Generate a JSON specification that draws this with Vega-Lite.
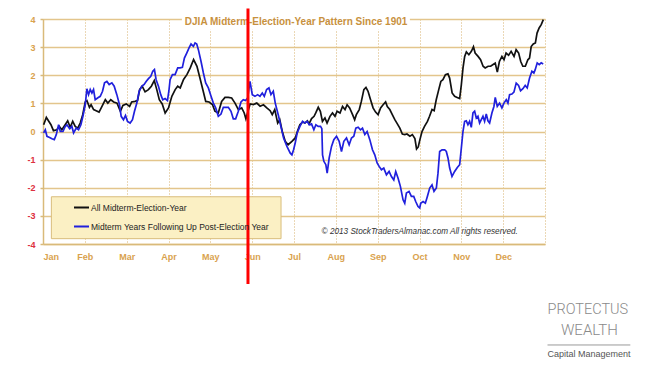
{
  "$schema": "https://vega.github.io/schema/vega-lite/v6.json",
  "width": 502,
  "height": 225,
  "autosize": "none",
  "padding": {"left": 43, "top": 19, "right": 102, "bottom": 127},
  "background": "white",
  "config": {
    "view": {"stroke": null},
    "font": "Liberation Sans",
    "axis": {"labelFont": "Liberation Sans", "title": null}
  },
  "resolve": {"axis": {"x": "independent", "y": "independent"}},
  "datasets": {
    "series": [
      {"s":"All Midterm-Election-Year","m":0.015,"v":0.24},{"s":"All Midterm-Election-Year","m":0.08,"v":0.50},{"s":"All Midterm-Election-Year","m":0.13,"v":0.38},{"s":"All Midterm-Election-Year","m":0.19,"v":0.24},{"s":"All Midterm-Election-Year","m":0.25,"v":0.03},{"s":"All Midterm-Election-Year","m":0.33,"v":0.06},{"s":"All Midterm-Election-Year","m":0.39,"v":0.18},{"s":"All Midterm-Election-Year","m":0.45,"v":0.06},{"s":"All Midterm-Election-Year","m":0.53,"v":0.24},{"s":"All Midterm-Election-Year","m":0.59,"v":0.38},{"s":"All Midterm-Election-Year","m":0.65,"v":0.15},{"s":"All Midterm-Election-Year","m":0.71,"v":0.36},{"s":"All Midterm-Election-Year","m":0.77,"v":0.18},{"s":"All Midterm-Election-Year","m":0.83,"v":0.12},{"s":"All Midterm-Election-Year","m":0.89,"v":0.30},{"s":"All Midterm-Election-Year","m":0.95,"v":0.60},{"s":"All Midterm-Election-Year","m":1.01,"v":1.05},{"s":"All Midterm-Election-Year","m":1.05,"v":1.10},{"s":"All Midterm-Election-Year","m":1.11,"v":0.86},{"s":"All Midterm-Election-Year","m":1.15,"v":0.95},{"s":"All Midterm-Election-Year","m":1.21,"v":0.78},{"s":"All Midterm-Election-Year","m":1.27,"v":0.74},{"s":"All Midterm-Election-Year","m":1.34,"v":0.69},{"s":"All Midterm-Election-Year","m":1.41,"v":0.89},{"s":"All Midterm-Election-Year","m":1.49,"v":1.13},{"s":"All Midterm-Election-Year","m":1.55,"v":1.01},{"s":"All Midterm-Election-Year","m":1.62,"v":1.13},{"s":"All Midterm-Election-Year","m":1.69,"v":1.05},{"s":"All Midterm-Election-Year","m":1.77,"v":1.01},{"s":"All Midterm-Election-Year","m":1.85,"v":0.72},{"s":"All Midterm-Election-Year","m":1.91,"v":0.93},{"s":"All Midterm-Election-Year","m":1.99,"v":0.98},{"s":"All Midterm-Election-Year","m":2.07,"v":0.89},{"s":"All Midterm-Election-Year","m":2.12,"v":1.05},{"s":"All Midterm-Election-Year","m":2.20,"v":1.07},{"s":"All Midterm-Election-Year","m":2.26,"v":1.10},{"s":"All Midterm-Election-Year","m":2.31,"v":1.49},{"s":"All Midterm-Election-Year","m":2.37,"v":1.61},{"s":"All Midterm-Election-Year","m":2.44,"v":1.41},{"s":"All Midterm-Election-Year","m":2.52,"v":1.49},{"s":"All Midterm-Election-Year","m":2.59,"v":1.61},{"s":"All Midterm-Election-Year","m":2.66,"v":1.81},{"s":"All Midterm-Election-Year","m":2.72,"v":1.49},{"s":"All Midterm-Election-Year","m":2.78,"v":1.13},{"s":"All Midterm-Election-Year","m":2.85,"v":0.98},{"s":"All Midterm-Election-Year","m":2.92,"v":0.66},{"s":"All Midterm-Election-Year","m":3.00,"v":0.84},{"s":"All Midterm-Election-Year","m":3.08,"v":1.25},{"s":"All Midterm-Election-Year","m":3.16,"v":1.49},{"s":"All Midterm-Election-Year","m":3.22,"v":1.61},{"s":"All Midterm-Election-Year","m":3.28,"v":1.55},{"s":"All Midterm-Election-Year","m":3.36,"v":1.85},{"s":"All Midterm-Election-Year","m":3.44,"v":2.02},{"s":"All Midterm-Election-Year","m":3.52,"v":2.26},{"s":"All Midterm-Election-Year","m":3.60,"v":2.56},{"s":"All Midterm-Election-Year","m":3.68,"v":2.32},{"s":"All Midterm-Election-Year","m":3.75,"v":1.91},{"s":"All Midterm-Election-Year","m":3.83,"v":1.43},{"s":"All Midterm-Election-Year","m":3.89,"v":1.07},{"s":"All Midterm-Election-Year","m":3.97,"v":1.05},{"s":"All Midterm-Election-Year","m":4.05,"v":0.96},{"s":"All Midterm-Election-Year","m":4.11,"v":0.72},{"s":"All Midterm-Election-Year","m":4.19,"v":0.66},{"s":"All Midterm-Election-Year","m":4.27,"v":1.07},{"s":"All Midterm-Election-Year","m":4.35,"v":1.21},{"s":"All Midterm-Election-Year","m":4.43,"v":1.21},{"s":"All Midterm-Election-Year","m":4.51,"v":1.19},{"s":"All Midterm-Election-Year","m":4.59,"v":1.01},{"s":"All Midterm-Election-Year","m":4.67,"v":0.78},{"s":"All Midterm-Election-Year","m":4.75,"v":0.84},{"s":"All Midterm-Election-Year","m":4.81,"v":0.66},{"s":"All Midterm-Election-Year","m":4.85,"v":0.45},{"s":"All Midterm-Election-Year","m":4.95,"v":0.98},{"s":"All Midterm-Election-Year","m":5.03,"v":0.96},{"s":"All Midterm-Election-Year","m":5.11,"v":1.01},{"s":"All Midterm-Election-Year","m":5.19,"v":0.90},{"s":"All Midterm-Election-Year","m":5.27,"v":0.95},{"s":"All Midterm-Election-Year","m":5.35,"v":0.84},{"s":"All Midterm-Election-Year","m":5.43,"v":0.74},{"s":"All Midterm-Election-Year","m":5.48,"v":0.60},{"s":"All Midterm-Election-Year","m":5.54,"v":0.78},{"s":"All Midterm-Election-Year","m":5.61,"v":0.30},{"s":"All Midterm-Election-Year","m":5.66,"v":0.42},{"s":"All Midterm-Election-Year","m":5.72,"v":0.0},{"s":"All Midterm-Election-Year","m":5.79,"v":-0.35},{"s":"All Midterm-Election-Year","m":5.86,"v":-0.47},{"s":"All Midterm-Election-Year","m":5.95,"v":-0.35},{"s":"All Midterm-Election-Year","m":6.03,"v":-0.23},{"s":"All Midterm-Election-Year","m":6.08,"v":0.0},{"s":"All Midterm-Election-Year","m":6.14,"v":0.24},{"s":"All Midterm-Election-Year","m":6.21,"v":0.34},{"s":"All Midterm-Election-Year","m":6.26,"v":0.30},{"s":"All Midterm-Election-Year","m":6.32,"v":0.38},{"s":"All Midterm-Election-Year","m":6.36,"v":0.27},{"s":"All Midterm-Election-Year","m":6.42,"v":0.46},{"s":"All Midterm-Election-Year","m":6.48,"v":0.54},{"s":"All Midterm-Election-Year","m":6.52,"v":0.66},{"s":"All Midterm-Election-Year","m":6.58,"v":0.86},{"s":"All Midterm-Election-Year","m":6.63,"v":0.72},{"s":"All Midterm-Election-Year","m":6.68,"v":0.36},{"s":"All Midterm-Election-Year","m":6.74,"v":0.48},{"s":"All Midterm-Election-Year","m":6.79,"v":0.30},{"s":"All Midterm-Election-Year","m":6.86,"v":0.54},{"s":"All Midterm-Election-Year","m":6.92,"v":0.66},{"s":"All Midterm-Election-Year","m":6.98,"v":0.54},{"s":"All Midterm-Election-Year","m":7.03,"v":0.72},{"s":"All Midterm-Election-Year","m":7.10,"v":0.66},{"s":"All Midterm-Election-Year","m":7.16,"v":0.89},{"s":"All Midterm-Election-Year","m":7.22,"v":0.78},{"s":"All Midterm-Election-Year","m":7.27,"v":0.95},{"s":"All Midterm-Election-Year","m":7.33,"v":0.84},{"s":"All Midterm-Election-Year","m":7.40,"v":0.60},{"s":"All Midterm-Election-Year","m":7.45,"v":0.42},{"s":"All Midterm-Election-Year","m":7.49,"v":0.60},{"s":"All Midterm-Election-Year","m":7.56,"v":0.78},{"s":"All Midterm-Election-Year","m":7.61,"v":1.07},{"s":"All Midterm-Election-Year","m":7.67,"v":1.49},{"s":"All Midterm-Election-Year","m":7.72,"v":1.57},{"s":"All Midterm-Election-Year","m":7.77,"v":1.43},{"s":"All Midterm-Election-Year","m":7.83,"v":1.13},{"s":"All Midterm-Election-Year","m":7.89,"v":0.84},{"s":"All Midterm-Election-Year","m":7.95,"v":0.69},{"s":"All Midterm-Election-Year","m":8.01,"v":0.60},{"s":"All Midterm-Election-Year","m":8.07,"v":0.84},{"s":"All Midterm-Election-Year","m":8.13,"v":0.95},{"s":"All Midterm-Election-Year","m":8.19,"v":1.05},{"s":"All Midterm-Election-Year","m":8.23,"v":0.89},{"s":"All Midterm-Election-Year","m":8.29,"v":0.78},{"s":"All Midterm-Election-Year","m":8.35,"v":0.60},{"s":"All Midterm-Election-Year","m":8.41,"v":0.42},{"s":"All Midterm-Election-Year","m":8.46,"v":0.30},{"s":"All Midterm-Election-Year","m":8.53,"v":0.12},{"s":"All Midterm-Election-Year","m":8.59,"v":-0.09},{"s":"All Midterm-Election-Year","m":8.65,"v":-0.11},{"s":"All Midterm-Election-Year","m":8.70,"v":-0.09},{"s":"All Midterm-Election-Year","m":8.77,"v":-0.17},{"s":"All Midterm-Election-Year","m":8.83,"v":-0.11},{"s":"All Midterm-Election-Year","m":8.89,"v":-0.25},{"s":"All Midterm-Election-Year","m":8.93,"v":-0.62},{"s":"All Midterm-Election-Year","m":8.97,"v":-0.55},{"s":"All Midterm-Election-Year","m":9.01,"v":-0.29},{"s":"All Midterm-Election-Year","m":9.06,"v":0.0},{"s":"All Midterm-Election-Year","m":9.12,"v":0.18},{"s":"All Midterm-Election-Year","m":9.19,"v":0.36},{"s":"All Midterm-Election-Year","m":9.24,"v":0.54},{"s":"All Midterm-Election-Year","m":9.30,"v":0.78},{"s":"All Midterm-Election-Year","m":9.35,"v":0.74},{"s":"All Midterm-Election-Year","m":9.40,"v":1.13},{"s":"All Midterm-Election-Year","m":9.46,"v":1.49},{"s":"All Midterm-Election-Year","m":9.51,"v":1.78},{"s":"All Midterm-Election-Year","m":9.56,"v":1.84},{"s":"All Midterm-Election-Year","m":9.62,"v":2.02},{"s":"All Midterm-Election-Year","m":9.68,"v":2.05},{"s":"All Midterm-Election-Year","m":9.72,"v":1.90},{"s":"All Midterm-Election-Year","m":9.78,"v":1.37},{"s":"All Midterm-Election-Year","m":9.84,"v":1.25},{"s":"All Midterm-Election-Year","m":9.90,"v":1.21},{"s":"All Midterm-Election-Year","m":9.96,"v":1.17},{"s":"All Midterm-Election-Year","m":10.00,"v":1.66},{"s":"All Midterm-Election-Year","m":10.04,"v":2.26},{"s":"All Midterm-Election-Year","m":10.08,"v":2.67},{"s":"All Midterm-Election-Year","m":10.12,"v":2.83},{"s":"All Midterm-Election-Year","m":10.18,"v":2.73},{"s":"All Midterm-Election-Year","m":10.24,"v":2.85},{"s":"All Midterm-Election-Year","m":10.29,"v":3.01},{"s":"All Midterm-Election-Year","m":10.33,"v":2.79},{"s":"All Midterm-Election-Year","m":10.40,"v":2.67},{"s":"All Midterm-Election-Year","m":10.46,"v":2.55},{"s":"All Midterm-Election-Year","m":10.52,"v":2.32},{"s":"All Midterm-Election-Year","m":10.57,"v":2.26},{"s":"All Midterm-Election-Year","m":10.64,"v":2.32},{"s":"All Midterm-Election-Year","m":10.70,"v":2.32},{"s":"All Midterm-Election-Year","m":10.76,"v":2.38},{"s":"All Midterm-Election-Year","m":10.81,"v":2.43},{"s":"All Midterm-Election-Year","m":10.86,"v":2.11},{"s":"All Midterm-Election-Year","m":10.91,"v":2.49},{"s":"All Midterm-Election-Year","m":10.97,"v":2.67},{"s":"All Midterm-Election-Year","m":11.02,"v":2.55},{"s":"All Midterm-Election-Year","m":11.07,"v":2.79},{"s":"All Midterm-Election-Year","m":11.13,"v":2.71},{"s":"All Midterm-Election-Year","m":11.19,"v":2.85},{"s":"All Midterm-Election-Year","m":11.26,"v":2.67},{"s":"All Midterm-Election-Year","m":11.31,"v":2.91},{"s":"All Midterm-Election-Year","m":11.37,"v":2.79},{"s":"All Midterm-Election-Year","m":11.42,"v":2.49},{"s":"All Midterm-Election-Year","m":11.47,"v":2.32},{"s":"All Midterm-Election-Year","m":11.53,"v":2.32},{"s":"All Midterm-Election-Year","m":11.59,"v":2.55},{"s":"All Midterm-Election-Year","m":11.63,"v":2.61},{"s":"All Midterm-Election-Year","m":11.67,"v":3.02},{"s":"All Midterm-Election-Year","m":11.72,"v":3.11},{"s":"All Midterm-Election-Year","m":11.77,"v":3.15},{"s":"All Midterm-Election-Year","m":11.81,"v":3.50},{"s":"All Midterm-Election-Year","m":11.86,"v":3.68},{"s":"All Midterm-Election-Year","m":11.91,"v":3.80},{"s":"All Midterm-Election-Year","m":11.96,"v":3.98},
      {"s":"Midterm Years Following Up Post-Election Year","m":0.015,"v":-0.05},{"s":"Midterm Years Following Up Post-Election Year","m":0.055,"v":0.06},{"s":"Midterm Years Following Up Post-Election Year","m":0.095,"v":-0.17},{"s":"Midterm Years Following Up Post-Election Year","m":0.158,"v":-0.21},{"s":"Midterm Years Following Up Post-Election Year","m":0.214,"v":-0.26},{"s":"Midterm Years Following Up Post-Election Year","m":0.27,"v":-0.29},{"s":"Midterm Years Following Up Post-Election Year","m":0.318,"v":-0.11},{"s":"Midterm Years Following Up Post-Election Year","m":0.373,"v":0.24},{"s":"Midterm Years Following Up Post-Election Year","m":0.413,"v":0.0},{"s":"Midterm Years Following Up Post-Election Year","m":0.477,"v":0.0},{"s":"Midterm Years Following Up Post-Election Year","m":0.532,"v":0.18},{"s":"Midterm Years Following Up Post-Election Year","m":0.572,"v":0.24},{"s":"Midterm Years Following Up Post-Election Year","m":0.636,"v":0.10},{"s":"Midterm Years Following Up Post-Election Year","m":0.691,"v":0.18},{"s":"Midterm Years Following Up Post-Election Year","m":0.731,"v":-0.05},{"s":"Midterm Years Following Up Post-Election Year","m":0.795,"v":0.12},{"s":"Midterm Years Following Up Post-Election Year","m":0.85,"v":0.06},{"s":"Midterm Years Following Up Post-Election Year","m":0.906,"v":0.24},{"s":"Midterm Years Following Up Post-Election Year","m":0.954,"v":0.54},{"s":"Midterm Years Following Up Post-Election Year","m":1.01,"v":0.95},{"s":"Midterm Years Following Up Post-Election Year","m":1.049,"v":1.52},{"s":"Midterm Years Following Up Post-Election Year","m":1.089,"v":1.31},{"s":"Midterm Years Following Up Post-Election Year","m":1.129,"v":1.49},{"s":"Midterm Years Following Up Post-Election Year","m":1.169,"v":1.37},{"s":"Midterm Years Following Up Post-Election Year","m":1.208,"v":1.49},{"s":"Midterm Years Following Up Post-Election Year","m":1.248,"v":1.13},{"s":"Midterm Years Following Up Post-Election Year","m":1.304,"v":1.19},{"s":"Midterm Years Following Up Post-Election Year","m":1.368,"v":1.25},{"s":"Midterm Years Following Up Post-Election Year","m":1.423,"v":1.43},{"s":"Midterm Years Following Up Post-Election Year","m":1.471,"v":1.73},{"s":"Midterm Years Following Up Post-Election Year","m":1.527,"v":1.78},{"s":"Midterm Years Following Up Post-Election Year","m":1.582,"v":1.67},{"s":"Midterm Years Following Up Post-Election Year","m":1.646,"v":1.73},{"s":"Midterm Years Following Up Post-Election Year","m":1.702,"v":1.61},{"s":"Midterm Years Following Up Post-Election Year","m":1.765,"v":1.31},{"s":"Midterm Years Following Up Post-Election Year","m":1.829,"v":0.95},{"s":"Midterm Years Following Up Post-Election Year","m":1.869,"v":0.54},{"s":"Midterm Years Following Up Post-Election Year","m":1.924,"v":0.42},{"s":"Midterm Years Following Up Post-Election Year","m":1.972,"v":0.57},{"s":"Midterm Years Following Up Post-Election Year","m":2.02,"v":0.36},{"s":"Midterm Years Following Up Post-Election Year","m":2.083,"v":0.30},{"s":"Midterm Years Following Up Post-Election Year","m":2.139,"v":0.42},{"s":"Midterm Years Following Up Post-Election Year","m":2.187,"v":0.72},{"s":"Midterm Years Following Up Post-Election Year","m":2.243,"v":1.01},{"s":"Midterm Years Following Up Post-Election Year","m":2.298,"v":1.43},{"s":"Midterm Years Following Up Post-Election Year","m":2.362,"v":1.61},{"s":"Midterm Years Following Up Post-Election Year","m":2.418,"v":1.67},{"s":"Midterm Years Following Up Post-Election Year","m":2.465,"v":1.78},{"s":"Midterm Years Following Up Post-Election Year","m":2.521,"v":1.88},{"s":"Midterm Years Following Up Post-Election Year","m":2.577,"v":1.96},{"s":"Midterm Years Following Up Post-Election Year","m":2.624,"v":2.14},{"s":"Midterm Years Following Up Post-Election Year","m":2.664,"v":2.20},{"s":"Midterm Years Following Up Post-Election Year","m":2.704,"v":1.84},{"s":"Midterm Years Following Up Post-Election Year","m":2.76,"v":1.61},{"s":"Midterm Years Following Up Post-Election Year","m":2.815,"v":1.31},{"s":"Midterm Years Following Up Post-Election Year","m":2.863,"v":1.13},{"s":"Midterm Years Following Up Post-Election Year","m":2.919,"v":1.17},{"s":"Midterm Years Following Up Post-Election Year","m":2.975,"v":1.10},{"s":"Midterm Years Following Up Post-Election Year","m":3.01,"v":1.45},{"s":"Midterm Years Following Up Post-Election Year","m":3.038,"v":1.84},{"s":"Midterm Years Following Up Post-Election Year","m":3.094,"v":2.02},{"s":"Midterm Years Following Up Post-Election Year","m":3.157,"v":2.02},{"s":"Midterm Years Following Up Post-Election Year","m":3.221,"v":2.26},{"s":"Midterm Years Following Up Post-Election Year","m":3.277,"v":2.26},{"s":"Midterm Years Following Up Post-Election Year","m":3.332,"v":2.28},{"s":"Midterm Years Following Up Post-Election Year","m":3.38,"v":2.61},{"s":"Midterm Years Following Up Post-Election Year","m":3.436,"v":2.79},{"s":"Midterm Years Following Up Post-Election Year","m":3.491,"v":2.97},{"s":"Midterm Years Following Up Post-Election Year","m":3.539,"v":3.11},{"s":"Midterm Years Following Up Post-Election Year","m":3.595,"v":3.03},{"s":"Midterm Years Following Up Post-Election Year","m":3.635,"v":3.15},{"s":"Midterm Years Following Up Post-Election Year","m":3.675,"v":3.11},{"s":"Midterm Years Following Up Post-Election Year","m":3.714,"v":2.91},{"s":"Midterm Years Following Up Post-Election Year","m":3.778,"v":2.49},{"s":"Midterm Years Following Up Post-Election Year","m":3.834,"v":2.08},{"s":"Midterm Years Following Up Post-Election Year","m":3.889,"v":1.73},{"s":"Midterm Years Following Up Post-Election Year","m":3.953,"v":1.55},{"s":"Midterm Years Following Up Post-Election Year","m":4.017,"v":1.25},{"s":"Midterm Years Following Up Post-Election Year","m":4.072,"v":1.01},{"s":"Midterm Years Following Up Post-Election Year","m":4.128,"v":0.84},{"s":"Midterm Years Following Up Post-Election Year","m":4.191,"v":0.54},{"s":"Midterm Years Following Up Post-Election Year","m":4.255,"v":0.62},{"s":"Midterm Years Following Up Post-Election Year","m":4.311,"v":0.86},{"s":"Midterm Years Following Up Post-Election Year","m":4.366,"v":0.86},{"s":"Midterm Years Following Up Post-Election Year","m":4.43,"v":0.86},{"s":"Midterm Years Following Up Post-Election Year","m":4.494,"v":0.72},{"s":"Midterm Years Following Up Post-Election Year","m":4.549,"v":0.45},{"s":"Midterm Years Following Up Post-Election Year","m":4.605,"v":0.45},{"s":"Midterm Years Following Up Post-Election Year","m":4.669,"v":0.72},{"s":"Midterm Years Following Up Post-Election Year","m":4.733,"v":1.05},{"s":"Midterm Years Following Up Post-Election Year","m":4.788,"v":1.13},{"s":"Midterm Years Following Up Post-Election Year","m":4.844,"v":1.10},{"s":"Midterm Years Following Up Post-Election Year","m":4.892,"v":1.19},{"s":"Midterm Years Following Up Post-Election Year","m":4.948,"v":1.78},{"s":"Midterm Years Following Up Post-Election Year","m":5.003,"v":1.31},{"s":"Midterm Years Following Up Post-Election Year","m":5.067,"v":1.25},{"s":"Midterm Years Following Up Post-Election Year","m":5.131,"v":1.31},{"s":"Midterm Years Following Up Post-Election Year","m":5.186,"v":1.25},{"s":"Midterm Years Following Up Post-Election Year","m":5.242,"v":1.37},{"s":"Midterm Years Following Up Post-Election Year","m":5.29,"v":1.25},{"s":"Midterm Years Following Up Post-Election Year","m":5.345,"v":1.49},{"s":"Midterm Years Following Up Post-Election Year","m":5.401,"v":1.55},{"s":"Midterm Years Following Up Post-Election Year","m":5.449,"v":1.31},{"s":"Midterm Years Following Up Post-Election Year","m":5.505,"v":1.43},{"s":"Midterm Years Following Up Post-Election Year","m":5.552,"v":1.01},{"s":"Midterm Years Following Up Post-Election Year","m":5.632,"v":0.54},{"s":"Midterm Years Following Up Post-Election Year","m":5.696,"v":0.12},{"s":"Midterm Years Following Up Post-Election Year","m":5.751,"v":-0.23},{"s":"Midterm Years Following Up Post-Election Year","m":5.831,"v":-0.53},{"s":"Midterm Years Following Up Post-Election Year","m":5.911,"v":-0.77},{"s":"Midterm Years Following Up Post-Election Year","m":5.95,"v":-0.83},{"s":"Midterm Years Following Up Post-Election Year","m":5.99,"v":-0.65},{"s":"Midterm Years Following Up Post-Election Year","m":6.03,"v":-0.40},{"s":"Midterm Years Following Up Post-Election Year","m":6.077,"v":-0.05},{"s":"Midterm Years Following Up Post-Election Year","m":6.141,"v":0.18},{"s":"Midterm Years Following Up Post-Election Year","m":6.205,"v":0.36},{"s":"Midterm Years Following Up Post-Election Year","m":6.26,"v":0.30},{"s":"Midterm Years Following Up Post-Election Year","m":6.316,"v":0.36},{"s":"Midterm Years Following Up Post-Election Year","m":6.364,"v":0.24},{"s":"Midterm Years Following Up Post-Election Year","m":6.419,"v":0.27},{"s":"Midterm Years Following Up Post-Election Year","m":6.475,"v":0.06},{"s":"Midterm Years Following Up Post-Election Year","m":6.523,"v":0.24},{"s":"Midterm Years Following Up Post-Election Year","m":6.579,"v":0.18},{"s":"Midterm Years Following Up Post-Election Year","m":6.634,"v":0.18},{"s":"Midterm Years Following Up Post-Election Year","m":6.666,"v":0.10},{"s":"Midterm Years Following Up Post-Election Year","m":6.682,"v":-0.83},{"s":"Midterm Years Following Up Post-Election Year","m":6.714,"v":-1.06},{"s":"Midterm Years Following Up Post-Election Year","m":6.761,"v":-1.18},{"s":"Midterm Years Following Up Post-Election Year","m":6.793,"v":-1.48},{"s":"Midterm Years Following Up Post-Election Year","m":6.841,"v":-0.94},{"s":"Midterm Years Following Up Post-Election Year","m":6.897,"v":-0.53},{"s":"Midterm Years Following Up Post-Election Year","m":6.952,"v":-0.29},{"s":"Midterm Years Following Up Post-Election Year","m":7.016,"v":-0.17},{"s":"Midterm Years Following Up Post-Election Year","m":7.08,"v":-0.35},{"s":"Midterm Years Following Up Post-Election Year","m":7.135,"v":-0.71},{"s":"Midterm Years Following Up Post-Election Year","m":7.191,"v":-0.35},{"s":"Midterm Years Following Up Post-Election Year","m":7.255,"v":-0.23},{"s":"Midterm Years Following Up Post-Election Year","m":7.318,"v":-0.47},{"s":"Midterm Years Following Up Post-Election Year","m":7.374,"v":-0.23},{"s":"Midterm Years Following Up Post-Election Year","m":7.43,"v":-0.17},{"s":"Midterm Years Following Up Post-Election Year","m":7.478,"v":0.12},{"s":"Midterm Years Following Up Post-Election Year","m":7.533,"v":0.15},{"s":"Midterm Years Following Up Post-Election Year","m":7.589,"v":0.06},{"s":"Midterm Years Following Up Post-Election Year","m":7.637,"v":0.12},{"s":"Midterm Years Following Up Post-Election Year","m":7.693,"v":-0.11},{"s":"Midterm Years Following Up Post-Election Year","m":7.748,"v":0.0},{"s":"Midterm Years Following Up Post-Election Year","m":7.812,"v":-0.29},{"s":"Midterm Years Following Up Post-Election Year","m":7.876,"v":-0.65},{"s":"Midterm Years Following Up Post-Election Year","m":7.931,"v":-0.83},{"s":"Midterm Years Following Up Post-Election Year","m":7.987,"v":-1.12},{"s":"Midterm Years Following Up Post-Election Year","m":8.035,"v":-1.24},{"s":"Midterm Years Following Up Post-Election Year","m":8.09,"v":-1.36},{"s":"Midterm Years Following Up Post-Election Year","m":8.146,"v":-1.30},{"s":"Midterm Years Following Up Post-Election Year","m":8.21,"v":-1.54},{"s":"Midterm Years Following Up Post-Election Year","m":8.273,"v":-1.42},{"s":"Midterm Years Following Up Post-Election Year","m":8.329,"v":-1.60},{"s":"Midterm Years Following Up Post-Election Year","m":8.385,"v":-1.72},{"s":"Midterm Years Following Up Post-Election Year","m":8.432,"v":-1.42},{"s":"Midterm Years Following Up Post-Election Year","m":8.488,"v":-1.66},{"s":"Midterm Years Following Up Post-Election Year","m":8.543,"v":-1.95},{"s":"Midterm Years Following Up Post-Election Year","m":8.607,"v":-2.43},{"s":"Midterm Years Following Up Post-Election Year","m":8.647,"v":-2.55},{"s":"Midterm Years Following Up Post-Election Year","m":8.687,"v":-2.19},{"s":"Midterm Years Following Up Post-Election Year","m":8.75,"v":-2.13},{"s":"Midterm Years Following Up Post-Election Year","m":8.806,"v":-2.31},{"s":"Midterm Years Following Up Post-Election Year","m":8.862,"v":-2.31},{"s":"Midterm Years Following Up Post-Election Year","m":8.909,"v":-2.49},{"s":"Midterm Years Following Up Post-Election Year","m":8.965,"v":-2.67},{"s":"Midterm Years Following Up Post-Election Year","m":9.005,"v":-2.72},{"s":"Midterm Years Following Up Post-Election Year","m":9.029,"v":-2.55},{"s":"Midterm Years Following Up Post-Election Year","m":9.085,"v":-2.49},{"s":"Midterm Years Following Up Post-Election Year","m":9.14,"v":-2.55},{"s":"Midterm Years Following Up Post-Election Year","m":9.188,"v":-2.31},{"s":"Midterm Years Following Up Post-Election Year","m":9.244,"v":-2.01},{"s":"Midterm Years Following Up Post-Election Year","m":9.299,"v":-1.90},{"s":"Midterm Years Following Up Post-Election Year","m":9.347,"v":-2.13},{"s":"Midterm Years Following Up Post-Election Year","m":9.403,"v":-2.01},{"s":"Midterm Years Following Up Post-Election Year","m":9.442,"v":-1.48},{"s":"Midterm Years Following Up Post-Election Year","m":9.482,"v":-0.71},{"s":"Midterm Years Following Up Post-Election Year","m":9.538,"v":-0.65},{"s":"Midterm Years Following Up Post-Election Year","m":9.602,"v":-0.65},{"s":"Midterm Years Following Up Post-Election Year","m":9.641,"v":-0.71},{"s":"Midterm Years Following Up Post-Election Year","m":9.681,"v":-0.94},{"s":"Midterm Years Following Up Post-Election Year","m":9.721,"v":-1.30},{"s":"Midterm Years Following Up Post-Election Year","m":9.777,"v":-1.60},{"s":"Midterm Years Following Up Post-Election Year","m":9.84,"v":-1.42},{"s":"Midterm Years Following Up Post-Election Year","m":9.904,"v":-1.28},{"s":"Midterm Years Following Up Post-Election Year","m":9.96,"v":-1.18},{"s":"Midterm Years Following Up Post-Election Year","m":10.0,"v":-0.59},{"s":"Midterm Years Following Up Post-Election Year","m":10.039,"v":0.0},{"s":"Midterm Years Following Up Post-Election Year","m":10.079,"v":0.36},{"s":"Midterm Years Following Up Post-Election Year","m":10.119,"v":0.38},{"s":"Midterm Years Following Up Post-Election Year","m":10.158,"v":0.24},{"s":"Midterm Years Following Up Post-Election Year","m":10.198,"v":0.36},{"s":"Midterm Years Following Up Post-Election Year","m":10.238,"v":0.15},{"s":"Midterm Years Following Up Post-Election Year","m":10.278,"v":0.66},{"s":"Midterm Years Following Up Post-Election Year","m":10.318,"v":0.72},{"s":"Midterm Years Following Up Post-Election Year","m":10.358,"v":0.48},{"s":"Midterm Years Following Up Post-Election Year","m":10.397,"v":0.54},{"s":"Midterm Years Following Up Post-Election Year","m":10.437,"v":0.30},{"s":"Midterm Years Following Up Post-Election Year","m":10.477,"v":0.42},{"s":"Midterm Years Following Up Post-Election Year","m":10.517,"v":0.54},{"s":"Midterm Years Following Up Post-Election Year","m":10.556,"v":0.36},{"s":"Midterm Years Following Up Post-Election Year","m":10.596,"v":0.62},{"s":"Midterm Years Following Up Post-Election Year","m":10.636,"v":0.38},{"s":"Midterm Years Following Up Post-Election Year","m":10.676,"v":0.30},{"s":"Midterm Years Following Up Post-Election Year","m":10.731,"v":0.66},{"s":"Midterm Years Following Up Post-Election Year","m":10.779,"v":0.89},{"s":"Midterm Years Following Up Post-Election Year","m":10.811,"v":1.21},{"s":"Midterm Years Following Up Post-Election Year","m":10.859,"v":0.89},{"s":"Midterm Years Following Up Post-Election Year","m":10.914,"v":1.01},{"s":"Midterm Years Following Up Post-Election Year","m":10.97,"v":0.84},{"s":"Midterm Years Following Up Post-Election Year","m":11.018,"v":1.01},{"s":"Midterm Years Following Up Post-Election Year","m":11.074,"v":1.13},{"s":"Midterm Years Following Up Post-Election Year","m":11.114,"v":1.01},{"s":"Midterm Years Following Up Post-Election Year","m":11.153,"v":1.31},{"s":"Midterm Years Following Up Post-Election Year","m":11.209,"v":1.33},{"s":"Midterm Years Following Up Post-Election Year","m":11.257,"v":1.40},{"s":"Midterm Years Following Up Post-Election Year","m":11.312,"v":1.72},{"s":"Midterm Years Following Up Post-Election Year","m":11.368,"v":1.64},{"s":"Midterm Years Following Up Post-Election Year","m":11.416,"v":1.45},{"s":"Midterm Years Following Up Post-Election Year","m":11.472,"v":1.52},{"s":"Midterm Years Following Up Post-Election Year","m":11.527,"v":1.64},{"s":"Midterm Years Following Up Post-Election Year","m":11.575,"v":1.55},{"s":"Midterm Years Following Up Post-Election Year","m":11.631,"v":1.90},{"s":"Midterm Years Following Up Post-Election Year","m":11.687,"v":2.14},{"s":"Midterm Years Following Up Post-Election Year","m":11.734,"v":2.08},{"s":"Midterm Years Following Up Post-Election Year","m":11.766,"v":2.20},{"s":"Midterm Years Following Up Post-Election Year","m":11.814,"v":2.44},{"s":"Midterm Years Following Up Post-Election Year","m":11.862,"v":2.38},{"s":"Midterm Years Following Up Post-Election Year","m":11.909,"v":2.44},{"s":"Midterm Years Following Up Post-Election Year","m":11.957,"v":2.40}
    ],
    "one": [{}]
  },
  "layer": [
    {
      "data": {"name": "series"},
      "mark": {"type": "line", "strokeWidth": 1.7},
      "encoding": {
        "x": {
          "field": "m", "type": "quantitative",
          "scale": {"domain": [0, 12], "nice": false, "zero": false},
          "axis": {
            "values": [0,1,2,3,4,5,6,7,8,9,10,11,12],
            "labelExpr": "datum.value < 12 ? ['Jan','Feb','Mar','Apr','May','Jun','Jul','Aug','Sep','Oct','Nov','Dec'][datum.value] : ''",
            "labelOverlap": false,
            "grid": true, "gridColor": "#D6B16C", "gridDash": [1, 2], "gridWidth": 1,
            "domainColor": "#D9BA7A", "domainWidth": 1.5,
            "ticks": false, "tickSize": 0, "labelPadding": 8,
            "labelColor": "#D9A24E", "labelFontSize": 9, "labelFontWeight": "bold",
            "labelFont": "Liberation Sans", "title": null
          }
        },
        "y": {
          "field": "v", "type": "quantitative",
          "scale": {"domain": [-4, 4], "nice": false, "zero": false},
          "axis": {
            "values": [-4,-3,-2,-1,0,1,2,3,4],
            "labelExpr": "datum.value < 0 ? '-' + abs(datum.value) : '' + datum.value",
            "labelOverlap": false,
            "grid": true, "gridColor": "#E3C58C", "gridWidth": 1.5,
            "domainColor": "#D9BA7A", "domainWidth": 1.5,
            "ticks": true, "tickSize": 3, "tickColor": "#D9BA7A", "tickWidth": 1.5, "labelPadding": 5,
            "labelColor": {"condition": {"test": "datum.value < 0", "value": "#DD3040"}, "value": "#D9A24E"},
            "labelFontSize": 9, "labelFontWeight": "bold",
            "labelFont": "Liberation Sans", "title": null
          }
        },
        "color": {
          "field": "s", "type": "nominal",
          "scale": {"domain": ["All Midterm-Election-Year", "Midterm Years Following Up Post-Election Year"], "range": ["#111111", "#2020DD"]},
          "legend": {
            "orient": "none", "legendX": 30, "legendY": 180, "title": null,
            "symbolType": "stroke", "symbolSize": 225, "symbolStrokeWidth": 2,
            "labelFontSize": 8.5, "labelColor": "#222222", "labelFont": "Liberation Sans",
            "labelLimit": 400,
            "labelOffset": 1, "rowPadding": 6, "padding": 0
          }
        }
      }
    },
    {
      "data": {"name": "one"},
      "mark": {"type": "rect", "fill": "#FBF0C4", "stroke": "#D9BD7C", "strokeWidth": 1},
      "encoding": {
        "x": {"datum": 0.2, "axis": null}, "x2": {"datum": 5.69},
        "y": {"datum": -2.32, "axis": null}, "y2": {"datum": -3.81}
      }
    },
    {
      "data": {"name": "one"},
      "mark": {"type": "rect", "fill": "white"},
      "encoding": {
        "x": {"datum": 3.32, "axis": null}, "x2": {"datum": 8.77},
        "y": {"datum": 3.62, "axis": null}, "y2": {"datum": 4.2}
      }
    },
    {
      "data": {"name": "one"},
      "mark": {"type": "text", "text": "DJIA Midterm-Election-Year Pattern Since 1901", "font": "Liberation Sans", "fontSize": 10, "fontWeight": "bold", "fill": "#C8913E", "align": "center", "baseline": "middle"},
      "encoding": {"x": {"datum": 6.05, "axis": null}, "y": {"datum": 3.9, "axis": null}}
    },
    {
      "data": {"name": "one"},
      "mark": {"type": "text", "text": "© 2013 StockTradersAlmanac.com All rights reserved.", "font": "Liberation Sans", "fontSize": 8.2, "fontStyle": "italic", "fill": "#333333", "align": "left", "baseline": "middle"},
      "encoding": {"x": {"datum": 6.66, "axis": null}, "y": {"datum": -3.59, "axis": null}}
    },
    {
      "data": {"name": "one"},
      "mark": {"type": "rule", "stroke": "#FF0000", "strokeWidth": 3},
      "encoding": {"x": {"datum": 4.9, "axis": null}, "y": {"datum": 4.37, "axis": null}, "y2": {"datum": -5.42}}
    },
    {
      "data": {"name": "one"},
      "mark": {"type": "text", "text": "PROTECTUS", "font": "Roboto", "fontWeight": 300, "fontSize": 14.5, "fill": "#8A8A8A", "align": "left", "baseline": "middle"},
      "encoding": {"x": {"datum": 12.06, "axis": null}, "y": {"datum": -6.36, "axis": null}}
    },
    {
      "data": {"name": "one"},
      "mark": {"type": "text", "text": "WEALTH", "font": "Roboto", "fontWeight": 300, "fontSize": 15, "fill": "#8A8A8A", "align": "center", "baseline": "middle"},
      "encoding": {"x": {"datum": 13.06, "axis": null}, "y": {"datum": -7.05, "axis": null}}
    },
    {
      "data": {"name": "one"},
      "mark": {"type": "rule", "stroke": "#9A9A9A", "strokeWidth": 1},
      "encoding": {"x": {"datum": 12.06, "axis": null}, "x2": {"datum": 14.04}, "y": {"datum": -7.59, "axis": null}}
    },
    {
      "data": {"name": "one"},
      "mark": {"type": "text", "text": "Capital Management", "font": "Liberation Sans", "fontSize": 9, "fill": "#555555", "align": "left", "baseline": "middle"},
      "encoding": {"x": {"datum": 12.06, "axis": null}, "y": {"datum": -7.91, "axis": null}}
    }
  ]
}
